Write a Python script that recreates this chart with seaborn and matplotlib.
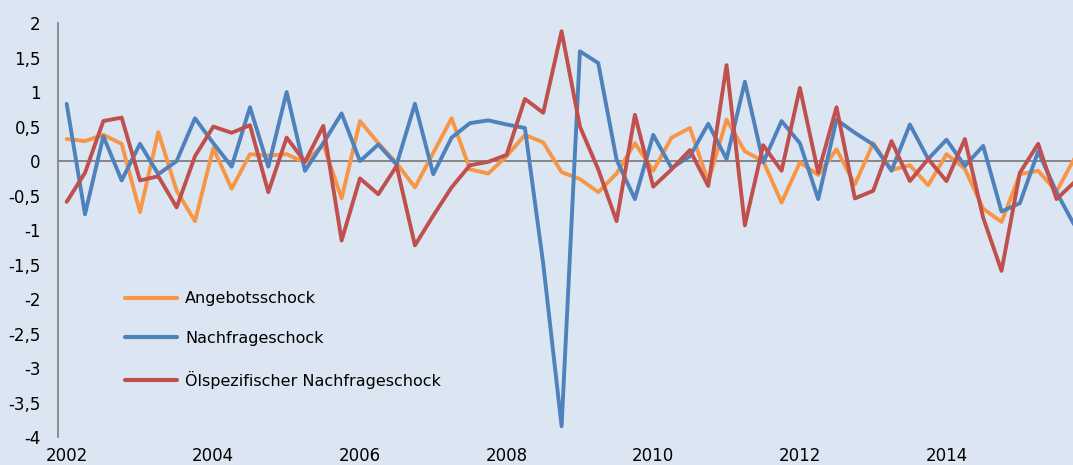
import numpy as np
import pandas as pd
import matplotlib
matplotlib.use("Agg")
import matplotlib.pyplot as plt
import seaborn as sns

# Quartalswerte 2002Q1 - 2015Q4
quartale = list(range(56))
jahre = ["2002", "2004", "2006", "2008", "2010", "2012", "2014"]

angebot = [0.32, 0.29, 0.38, 0.25, -0.74, 0.42, -0.43, -0.87, 0.19, -0.40,
           0.10, 0.08, 0.10, -0.02, 0.24, -0.54, 0.58, 0.26, -0.03, -0.38,
           0.12, 0.62, -0.12, -0.18, 0.07, 0.38, 0.27, -0.16, -0.26, -0.45,
           -0.18, 0.26, -0.14, 0.34, 0.48, -0.30, 0.60, 0.14, 0.00, -0.60,
           -0.02, -0.20, 0.17, -0.34, 0.26, -0.13, -0.06, -0.35, 0.10, -0.11,
           -0.69, -0.88, -0.19, -0.14, -0.44, 0.05]

nachfrage = [0.83, -0.77, 0.36, -0.28, 0.25, -0.19, 0.00, 0.62, 0.26, -0.08,
             0.78, -0.08, 1.00, -0.14, 0.26, 0.69, 0.00, 0.24, -0.05, 0.83,
             -0.19, 0.34, 0.55, 0.59, 0.53, 0.48, -1.49, -3.84, 1.59, 1.42,
             0.02, -0.55, 0.38, -0.10, 0.07, 0.54, 0.03, 1.15, -0.02, 0.58,
             0.26, -0.55, 0.60, 0.41, 0.24, -0.14, 0.53, 0.03, 0.31, -0.07,
             0.22, -0.73, -0.61, 0.14, -0.45, -0.94]

oel = [-0.59, -0.17, 0.58, 0.63, -0.28, -0.22, -0.67, 0.07, 0.50, 0.41,
       0.52, -0.45, 0.34, -0.01, 0.51, -1.15, -0.25, -0.48, -0.07, -1.22,
       -0.79, -0.38, -0.06, -0.01, 0.09, 0.90, 0.70, 1.88, 0.50, -0.12,
       -0.87, 0.67, -0.37, -0.12, 0.16, -0.36, 1.39, -0.93, 0.23, -0.14,
       1.06, -0.17, 0.78, -0.54, -0.43, 0.29, -0.29, 0.03, -0.29, 0.32,
       -0.82, -1.59, -0.17, 0.25, -0.55, -0.30]

reihen = ["Angebotsschock", "Nachfrageschock", "Ölspezifischer Nachfrageschock"]
farben = ["#F79646", "#4F81BD", "#C0504D"]

df = pd.DataFrame({"t": quartale, reihen[0]: angebot,
                   reihen[1]: nachfrage, reihen[2]: oel})
long = df.melt(id_vars="t", var_name="reihe", value_name="wert")

bg = "#DCE6F2"
grau = "#868686"

sns.set_theme(style="white")
plt.rcParams["font.family"] = ["DejaVu Sans"]
plt.rcParams["text.color"] = "black"
plt.rcParams["xtick.color"] = "black"
plt.rcParams["ytick.color"] = "black"

fig = plt.figure(figsize=(10.73, 4.65), dpi=100)
fig.patch.set_facecolor(bg)
ax = fig.add_axes([57.5 / 1073, 1 - 437.3 / 465, (1073 - 57.5) / 1073, (437.3 - 23) / 465])
ax.set_facecolor(bg)

sns.lineplot(data=long, x="t", y="wert", hue="reihe", hue_order=reihen,
             palette=farben, linewidth=2.8, ax=ax, solid_joinstyle="round",
             solid_capstyle="round")

ax.set_xlim(-0.5, 54.9)
ax.set_ylim(-4, 2)
ax.set_xlabel("")
ax.set_ylabel("")

# y-Achse
yt = np.arange(-4, 2.01, 0.5)
ax.set_yticks(yt)
ax.set_yticklabels([f"{v:g}".replace(".", ",") for v in yt], fontsize=12)
ax.tick_params(axis="y", direction="out", length=5, width=1.2, color=grau,
               labelcolor="black", pad=7)

# Nulllinie mit Kategorie-Strichen
for s in ["top", "right"]:
    ax.spines[s].set_visible(False)
ax.spines["left"].set_color(grau)
ax.spines["left"].set_linewidth(1.3)
ax.spines["bottom"].set_position(("data", 0))
ax.spines["bottom"].set_color(grau)
ax.spines["bottom"].set_linewidth(1.4)
ax.spines["bottom"].set_zorder(1)
ax.set_xticks(np.arange(-0.5, 55, 1))
ax.set_xticklabels([])
ax.tick_params(axis="x", direction="out", length=4, width=1.2, color=grau)

# Jahreszahlen unten
sec = ax.secondary_xaxis("bottom")
sec.set_xticks(range(0, 56, 8))
sec.set_xticklabels(jahre, fontsize=12)
sec.tick_params(length=0, pad=7, labelcolor="black")
sec.spines["bottom"].set_visible(False)

# Legende
handles, labels = ax.get_legend_handles_labels()
leg = ax.legend(handles, labels, loc="center left", bbox_to_anchor=(0.066, 0.235),
                frameon=False, fontsize=11.5, handlelength=3.3, handletextpad=0.5,
                labelspacing=1.55, borderaxespad=0, borderpad=0)
for h in leg.get_lines():
    h.set_linewidth(3)
for t in leg.get_texts():
    t.set_color("black")

fig.savefig("out.png", dpi=100, facecolor=bg)
